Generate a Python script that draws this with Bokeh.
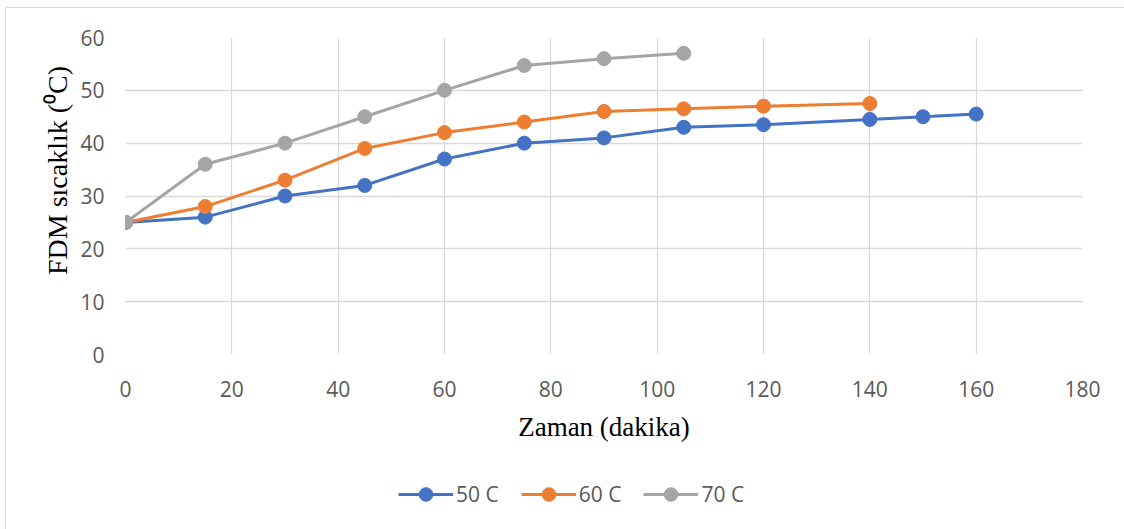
import math
from bokeh.plotting import figure
from bokeh.layouts import column, row
from bokeh.models import Legend, LegendItem, FixedTicker, Range1d, Label
from bokeh.embed import file_html
from bokeh.resources import INLINE

x50 = [0, 15, 30, 45, 60, 75, 90, 105, 120, 140, 150, 160]
y50 = [25, 26, 30, 32, 37, 40, 41, 43, 43.5, 44.5, 45, 45.5]
x60 = [0, 15, 30, 45, 60, 75, 90, 105, 120, 140]
y60 = [25, 28, 33, 39, 42, 44, 46, 46.5, 47, 47.5]
x70 = [0, 15, 30, 45, 60, 75, 90, 105]
y70 = [25, 36, 40, 45, 50, 54.7, 56, 57]
names = ["50 C", "60 C", "70 C"]
colors = ["#4472C4", "#ED7D31", "#A5A5A5"]
xticks = [0, 20, 40, 60, 80, 100, 120, 140, 160, 180]
yticks = [0, 10, 20, 30, 40, 50, 60]

LW = 70  # width of the y-title strip
p = figure(width=1118 - LW, height=460, output_backend="svg", toolbar_location=None,
           x_range=Range1d(0, 180), y_range=Range1d(0, 60),
           min_border_left=119 - LW, min_border_right=42, min_border_top=29, min_border_bottom=114)
p.outline_line_color = None

for ax in (p.xaxis[0], p.yaxis[0]):
    ax.axis_line_color = None
    ax.major_tick_line_color = None
    ax.minor_tick_line_color = None
    ax.major_label_text_color = "#595959"
    ax.major_label_text_font = "Open Sans"
    ax.major_label_text_font_size = "21px"
    ax.axis_label_text_font = "Liberation Serif"
    ax.axis_label_text_font_style = "normal"
    ax.axis_label_text_font_size = "27px"
    ax.axis_label_text_color = "#000000"

p.xaxis.ticker = FixedTicker(ticks=xticks)
p.yaxis.ticker = FixedTicker(ticks=yticks)
p.xaxis.major_label_standoff = 20
p.yaxis.major_label_standoff = 15
p.xaxis.axis_label = "Zaman (dakika)"
p.xaxis.axis_label_standoff = 12

p.xgrid.grid_line_color = "#d9d9d9"
p.ygrid.grid_line_color = "#d9d9d9"
p.xgrid.grid_line_width = 1.3
p.ygrid.grid_line_width = 1.3

# y-axis title strip (pixel-like coordinates)
p3 = figure(width=LW, height=460, output_backend="svg", toolbar_location=None,
            x_range=Range1d(0, LW), y_range=Range1d(0, 460),
            min_border_left=0, min_border_right=0, min_border_top=0, min_border_bottom=0)
p3.axis.visible = False
p3.grid.visible = False
p3.outline_line_color = None
p3.add_layout(Label(x=51, y=460 - 193, text="FDM sıcaklık (\u2070C)", angle=math.pi / 2,
                    text_align="center", text_baseline="middle",
                    text_font="Liberation Serif", text_font_size="28px",
                    text_color="#000000"))

# legend strip
p2 = figure(width=1118, height=61, output_backend="svg", toolbar_location=None,
            x_range=Range1d(-10, -9), y_range=Range1d(-10, -9),
            min_border_left=0, min_border_right=0, min_border_top=0, min_border_bottom=0)
p2.axis.visible = False
p2.grid.visible = False
p2.outline_line_color = None

items = []
for xs, ys, n, c in zip([x50, x60, x70], [y50, y60, y70], names, colors):
    p.line(xs, ys, line_color=c, line_width=3)
    p.scatter(xs, ys, size=14, fill_color=c, line_color=c)
    l2 = p2.line(xs, ys, line_color=c, line_width=3)
    s2 = p2.scatter(xs, ys, size=14, fill_color=c, line_color=c)
    items.append(LegendItem(label=n, renderers=[l2, s2]))

legend = Legend(items=items, orientation="horizontal", location=(392, 18),
                label_text_font="Open Sans", label_text_font_size="21px",
                label_text_color="#595959", glyph_width=55, glyph_height=34,
                spacing=22, label_standoff=3, border_line_color=None,
                background_fill_alpha=0, padding=0, margin=0)
p2.add_layout(legend, "center")

layout = column(row(p3, p, spacing=0), p2, spacing=0, margin=(8, 0, 0, 6))
layout.styles = {"outline": "1px solid #d9d9d9"}

open("out.html", "w").write(file_html(layout, INLINE))
